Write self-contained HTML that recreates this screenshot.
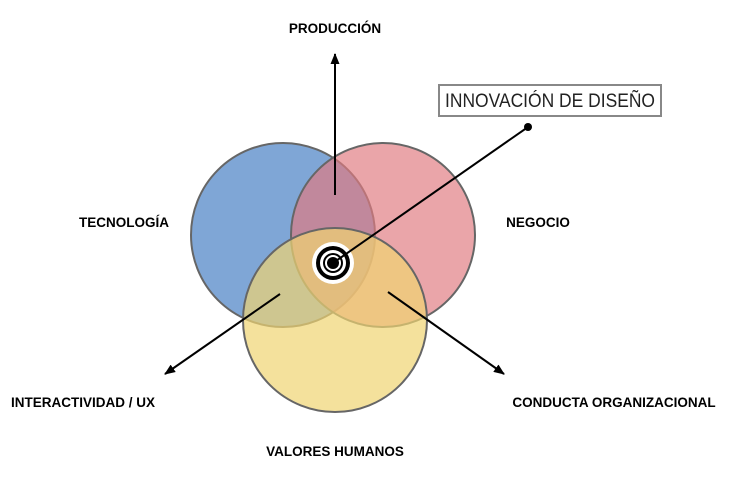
<!DOCTYPE html><html><head><style>body{margin:0;background:#fff}svg text{font-family:"Liberation Sans",sans-serif;font-weight:bold;font-size:13.5px}</style></head><body>
<svg width="731" height="483" xmlns="http://www.w3.org/2000/svg">
<defs><marker id="a" markerWidth="12" markerHeight="12" refX="10" refY="6" orient="auto" markerUnits="userSpaceOnUse"><path d="M0,1.5 L11,6 L0,10.5 z" fill="#000"/></marker></defs>
<circle cx="283" cy="235" r="92" fill="#7fa6d6" stroke="#666" stroke-width="2"/>
<circle cx="383" cy="235" r="92" fill="#e07a80" fill-opacity="0.68" stroke="#666" stroke-width="2"/>
<circle cx="335" cy="320" r="92" fill="#efd472" fill-opacity="0.7" stroke="#666" stroke-width="2"/>
<line x1="335" y1="195" x2="335" y2="54" stroke="#000" stroke-width="2" marker-end="url(#a)"/>
<line x1="280" y1="294" x2="165" y2="374" stroke="#000" stroke-width="2" marker-end="url(#a)"/>
<line x1="388" y1="292" x2="504" y2="374" stroke="#000" stroke-width="2" marker-end="url(#a)"/>
<circle cx="333" cy="263" r="21" fill="#fff"/>
<circle cx="333" cy="263" r="17" fill="#000"/>
<circle cx="333" cy="263" r="13" fill="#fff"/>
<circle cx="333" cy="263" r="10" fill="#000"/>
<circle cx="333" cy="263" r="8" fill="#fff"/>
<circle cx="333" cy="263" r="6" fill="#000"/>
<line x1="333" y1="263" x2="528" y2="127" stroke="#000" stroke-width="2"/>
<circle cx="528" cy="127" r="4" fill="#000"/>
<rect x="439" y="85" width="222" height="31" fill="#fff" stroke="#888" stroke-width="2"/>
<text x="550" y="107" text-anchor="middle" textLength="210" lengthAdjust="spacingAndGlyphs" style="font-weight:normal;font-size:19px" fill="#222">INNOVACIÓN DE DISEÑO</text>
<text x="335" y="33" text-anchor="middle">PRODUCCIÓN</text>
<text x="124" y="227" text-anchor="middle">TECNOLOGÍA</text>
<text x="538" y="227" text-anchor="middle">NEGOCIO</text>
<text x="83" y="407" text-anchor="middle">INTERACTIVIDAD / UX</text>
<text x="614" y="407" text-anchor="middle">CONDUCTA ORGANIZACIONAL</text>
<text x="335" y="456" text-anchor="middle">VALORES HUMANOS</text>
</svg></body></html>
